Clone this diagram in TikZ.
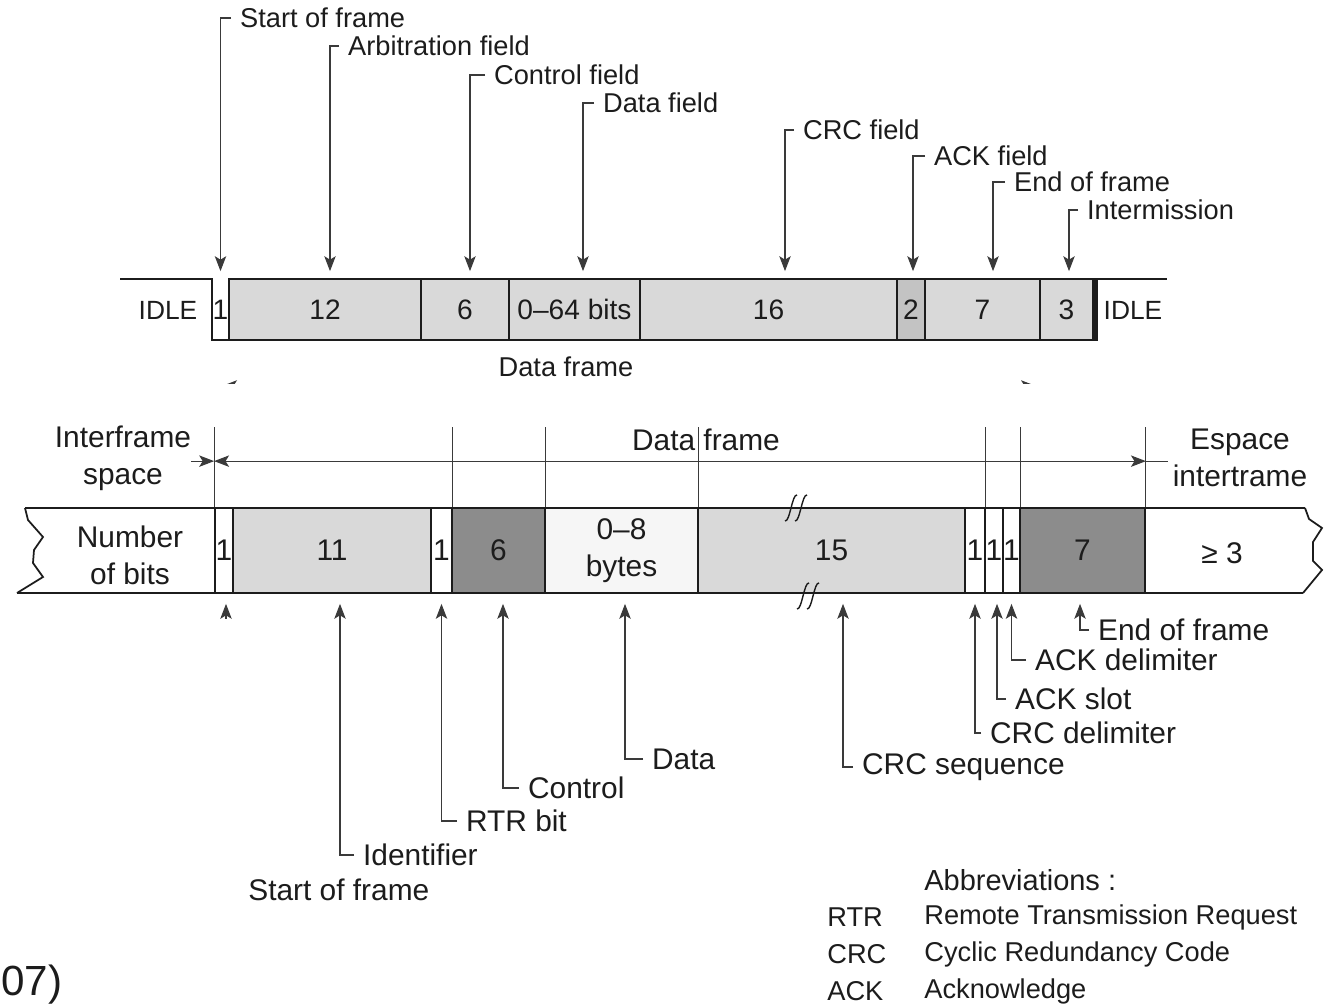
\documentclass[tikz,border=0pt]{standalone}
\usepackage{fontspec}
\setmainfont{Liberation Sans}
\usetikzlibrary{arrows.meta}
\definecolor{ink}{HTML}{1C1C1C}
\definecolor{wire}{HTML}{3A3A3A}
\definecolor{fieldlight}{HTML}{D9D9D9}
\definecolor{fieldack}{HTML}{C3C3C3}
\definecolor{fielddark}{HTML}{8C8C8C}
\definecolor{fielddata}{HTML}{F6F6F6}

\tikzset{
  field/.style={draw=ink, line width=1pt, inner sep=0pt, align=center, font=\fontsize{16}{19}\selectfont},
  bfield/.style={field, minimum height=1.7cm, font=\fontsize{17}{21}\selectfont},
  tag/.style={anchor=west, inner xsep=5pt, inner ysep=1pt, font=\fontsize{15.5}{18}\selectfont},
  btag/.style={tag, font=\fontsize{17}{20}\selectfont},
  note/.style={align=center, inner sep=0pt, font=\fontsize{17}{21}\selectfont},
  abbr/.style={anchor=west, inner sep=0pt, font=\fontsize{15.5}{18}\selectfont},
  pointer/.style={draw=wire, line width=0.6pt, ->},
}

\begin{document}
\begin{tikzpicture}[x=0.02cm, y=-0.02cm, color=ink, >={Stealth[length=8.5pt,width=6.5pt,inset=2pt]}]
  \useasboundingbox (0,0) rectangle (1324,1006);

  % upper frame (bit counts)
  \draw[line width=1pt] (120,279) -- (212,279) -- (212,340) -- (229,340);
  \draw[line width=1pt] (1093,279) -- (1167,279);
  \node[field, draw=none, minimum width=0.34cm, minimum height=1.22cm] (tSof) at (220.5,309.5) {1};
  \foreach \a/\b/\col/\txt/\nm in {229/421/fieldlight/12/tArb, 421/509/fieldlight/6/tCtl,
      509/640/fieldlight/0--64 bits/tDat, 640/897/fieldlight/16/tCrc, 897/925/fieldack/2/tAck,
      925/1040/fieldlight/7/tEof, 1040/1093/fieldlight/3/tInt}
    \node[field, fill=\col, minimum width={(\b-\a)*0.02cm}, minimum height=1.22cm] (\nm) at ({(\a+\b)/2},309.5) {\txt};
  \draw[line width=2.5pt] (1096,279) -- (1096,341);
  \node[font=\fontsize{15}{18}\selectfont] (idleL) at (168,310) {IDLE};
  \node[font=\fontsize{15}{18}\selectfont] (idleR) at (1133,310) {IDLE};
  \node[font=\fontsize{15.5}{18}\selectfont] (dfTop) at (566,367) {Data frame};
  \coordinate (cutA) at (222,386);
  \coordinate (cutB) at (1036,386);
  \begin{scope}
    \clip (0,0) rectangle (1324,384);
    \draw[pointer, <->] (cutA) -- (cutB);
  \end{scope}

  \foreach \lab/\px/\py/\txt/\cel/\dx in {lSof/231/18/Start of frame/tSof/0cm,
      lArb/339/46/Arbitration field/tArb/0.1cm, lCtl/485/75/Control field/tCtl/0.1cm,
      lDat/594/103/Data field/tDat/0.17cm, lCrc/794/130/CRC field/tCrc/0.33cm,
      lAck/925/156/ACK field/tAck/0.04cm, lEof/1005/182/End of frame/tEof/0.21cm,
      lInt/1078/210/Intermission/tInt/0.05cm}{
    \node[tag] (\lab) at (\px,\py) {\txt};
    \draw[pointer] (\lab.west) -| ([shift={(\dx,0.14cm)}]\cel.north);
  }

  % lower frame (detailed)
  \draw[line width=1pt] (25,508) -- (1305,508);
  \draw[line width=1pt] (17,593) -- (1303,593);
  \draw[line width=1pt] (25,508) -- (28,520) -- (43,537) -- (34,550) -- (33,563) -- (43,577) -- (17,593);
  \draw[line width=1pt] (1305,508) -- (1309,519) -- (1322,528) -- (1313,542) -- (1313,561) -- (1322,570) -- (1303,593);
  \foreach \a/\b/\col/\txt/\nm in {215/233/white/1/bSof, 233/431/fieldlight/11/bId, 431/452/white/1/bRtr,
      452/545/fielddark/6/bCtl, 545/698/fielddata/{0--8\\bytes}/bDat, 698/965/fieldlight/15/bCrc,
      965/985/white/1/bCrd, 985/1003/white/1/bAks, 1003/1020/white/1/bAkd, 1020/1145/fielddark/7/bEof}
    \node[bfield, fill=\col, minimum width={(\b-\a)*0.02cm}] (\nm) at ({(\a+\b)/2},550.5) {\txt};
  \node[note] (nbits) at (130,555) {Number\\of bits};
  \node[note] (ifs) at (1222,553) {≥ 3};
  \foreach \bx/\by in {791/508, 801/508, 803/596, 813/596}
    \draw[line width=0.8pt] (\bx-6,\by+13) .. controls (\bx-1,\by+14) and (\bx+1,\by-14) .. (\bx+6,\by-13);

  % extension and dimension lines
  \foreach \cel/\anc in {bSof/north west, bRtr/north east, bCtl/north east, bDat/north east,
      bCrd/north east, bAkd/north east, bEof/north east}
    \draw[wire, line width=0.6pt] (\cel.\anc) -- ++(0,-80);
  \coordinate (dimA) at ([yshift=0.92cm]bSof.north west);
  \coordinate (dimB) at ([yshift=0.92cm]bEof.north east);
  \draw[pointer] ([xshift=-0.46cm]dimA) -- (dimA);
  \draw[pointer, <->] (dimA) -- (dimB);
  \draw[pointer, -] (dimB) -- ([xshift=0.44cm]dimB);
  \node[note] (ifsL) at (123,458) {Interframe\\space};
  \node[note] (ifsR) at (1240,458) {Espace\\intertrame};
  \node[note] (dfBot) at (706,440) {Data frame};

  \foreach \lab/\px/\py/\txt/\cel/\dx in {lId/354/855/Identifier/bId/0.16cm,
      lRtr/457/821/RTR bit/bRtr/0cm, lCtlB/519/788/Control/bCtl/0.09cm,
      lDatB/643/759/Data/bDat/0.07cm, lCrcS/853/767/CRC sequence/bCrc/0.23cm,
      lCrcD/981/733/CRC delimiter/bCrd/0cm, lAks/1006/699/ACK slot/bAks/0.06cm,
      lAkd/1026/660/ACK delimiter/bAkd/0cm, lEofB/1089/630/End of frame/bEof/-0.05cm}{
    \node[btag] (\lab) at (\px,\py) {\txt};
    \draw[pointer] (\lab.west) -| ([shift={(\dx,-0.2cm)}]\cel.south);
  }
  \draw[pointer] ([shift={(0.04cm,-0.5cm)}]bSof.south) -- ([shift={(0.04cm,-0.2cm)}]bSof.south);
  \node[btag, inner xsep=0pt] (lSofB) at (248,890) {Start of frame};

  % abbreviations
  \node[abbr, font=\fontsize{16.5}{19}\selectfont] (abbrHead) at (924,880) {Abbreviations :};
  \foreach \k/\py/\txt/\nm in {RTR/917/Remote Transmission Request/aRtr,
      CRC/954/Cyclic Redundancy Code/aCrc, ACK/991/Acknowledge/aAck}{
    \node[abbr] (\nm) at (827,\py) {\k};
    \node[abbr] (\nm Txt) at (924,\py) {\txt};
  }
  \node[anchor=west, inner sep=0pt, font=\fontsize{24}{28}\selectfont] (cap) at (1,985) {07)};
\end{tikzpicture}
\end{document}
